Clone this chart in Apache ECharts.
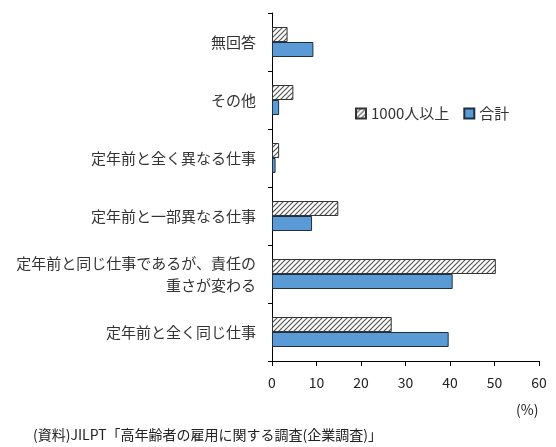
<!DOCTYPE html>
<html>
<head>
<meta charset="utf-8">
<script src="https://cdn.jsdelivr.net/npm/echarts@6/dist/echarts.min.js"></script>
<style>
  html, body { margin: 0; padding: 0; background: #fff; }
  #main { width: 556px; height: 447px; }
</style>
</head>
<body>
<div id="main"></div>
<script>
// categories, bottom to top ({s| } is a spacer so the second line sits centred)
var categories = [
  '定年前と全く同じ仕事',
  '定年前と同じ仕事であるが、責任の\n{s| }{t|重さが変わる}',
  '定年前と一部異なる仕事',
  '定年前と全く異なる仕事',
  'その他',
  '無回答'
];
var seriesNames = ['1000人以上', '合計'];
var large = [26.9, 50.3, 14.9, 1.6, 4.8, 3.5];
var total = [39.7, 40.6, 9.0, 0.8, 1.6, 9.3];
var xTicks = { min: 0, max: 60, interval: 10 };

var font = '"Noto Sans CJK JP", "Noto Sans", sans-serif';

// hatch pattern for 1000人以上
var hatch = document.createElement('canvas');
hatch.width = 5;
hatch.height = 5;
var ctx = hatch.getContext('2d');
ctx.fillStyle = '#ffffff';
ctx.fillRect(0, 0, 5, 5);
ctx.strokeStyle = '#555555';
ctx.lineWidth = 1.2;
ctx.beginPath();
ctx.moveTo(-1, 6); ctx.lineTo(6, -1);
ctx.moveTo(-1, 1); ctx.lineTo(1, -1);
ctx.moveTo(4, 6); ctx.lineTo(6, 4);
ctx.stroke();

var chart = echarts.init(document.getElementById('main'), null, { renderer: 'canvas' });
chart.setOption({
  animation: false,
  textStyle: { fontFamily: font },
  grid: { left: 272, right: 17, top: 13, bottom: 86, containLabel: false },
  legend: {
    data: seriesNames,
    icon: 'rect',
    left: 350,
    top: 101,
    itemWidth: 10,
    itemHeight: 10,
    itemGap: 14,
    textStyle: { fontSize: 15, color: '#333', fontFamily: font }
  },
  xAxis: {
    type: 'value',
    min: xTicks.min,
    max: xTicks.max,
    interval: xTicks.interval,
    splitLine: { show: false },
    axisLine: { show: true, lineStyle: { color: '#000', width: 1 } },
    axisTick: { show: true, length: 5, lineStyle: { color: '#000' } },
    axisLabel: { fontSize: 14, color: '#222', margin: 15, fontFamily: font }
  },
  yAxis: {
    type: 'category',
    data: categories,
    axisLine: { show: true, lineStyle: { color: '#000', width: 1 } },
    axisTick: { show: true, length: 4, lineStyle: { color: '#000' } },
    axisLabel: {
      fontSize: 15,
      color: '#333',
      margin: 16,
      lineHeight: 22,
      fontFamily: font,
      rich: {
        s: { width: 74, fontSize: 15, lineHeight: 22 },
        t: { fontSize: 15, color: '#333', lineHeight: 22 }
      }
    }
  },
  series: [
    {
      name: seriesNames[0],
      type: 'bar',
      data: large,
      barWidth: 15,
      barGap: '0%',
      itemStyle: { color: { image: hatch, repeat: 'repeat' }, borderColor: '#333', borderWidth: 1 }
    },
    {
      name: seriesNames[1],
      type: 'bar',
      data: total,
      barWidth: 15,
      barGap: '0%',
      itemStyle: { color: '#5b9bd5', borderColor: '#1f2f3f', borderWidth: 1 }
    }
  ],
  graphic: [
    { type: 'text', left: 516, top: 403, style: { text: '(%)', fontSize: 14, fill: '#222', fontFamily: font } },
    { type: 'text', left: 33, top: 428, style: { text: '(資料)JILPT「高年齢者の雇用に関する調査(企業調査)」', fontSize: 14, fill: '#222', fontFamily: font } }
  ]
});
</script>
</body>
</html>
